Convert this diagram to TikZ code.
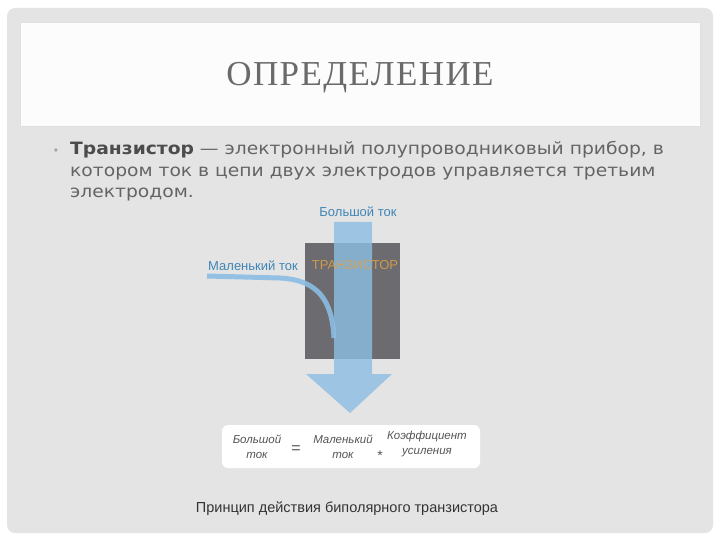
\documentclass[tikz,border=0pt]{standalone}
\usepackage{fontspec}
\setmainfont{Liberation Sans}
\newfontfamily\titlefont[LetterSpace=4]{Liberation Serif}
\newfontfamily\bodyfont[FakeStretch=1.1]{DejaVu Sans}
\usetikzlibrary{calc}
\definecolor{bg}{HTML}{E4E4E4}
\definecolor{panel}{HTML}{FCFCFC}
\definecolor{titlegray}{HTML}{6A6A6A}
\definecolor{bodygray}{HTML}{646464}
\definecolor{darkbox}{HTML}{6B6B70}
\definecolor{flow}{HTML}{8CBEE3}
\definecolor{labelblue}{HTML}{3F86B6}
\definecolor{gold}{HTML}{E0A346}
\definecolor{formgray}{HTML}{555555}
\tikzset{
  bodyline/.style={anchor=base west, inner sep=0pt, font=\bodyfont\fontsize{17}{20}\selectfont, text=bodygray},
  flowlabel/.style={anchor=base, inner sep=0pt, font=\fontsize{13}{14}\selectfont, text=labelblue},
  formtext/.style={align=center, inner sep=0pt, font=\itshape\fontsize{11.5}{15}\selectfont, text=formgray},
}
\begin{document}
\begin{tikzpicture}[x=1pt,y=-1pt]
\useasboundingbox (0,0) rectangle (720,540);
\fill[white] (0,0) rectangle (720,540);
\fill[bg, rounded corners=8pt] (7,8) rectangle (713,533);
\fill[panel] (20,22) rectangle (700,126);
\draw[white!88!black, line width=0.6pt] (20,22) rectangle (700,126);
% title
\node[anchor=base, inner sep=0pt, font=\titlefont\fontsize{35}{40}\selectfont, text=titlegray] (title) at (360,86) {ОПРЕДЕЛЕНИЕ};
% bullet text
\node[anchor=base, inner sep=0pt, font=\fontsize{12}{12}\selectfont, text=gray!70] (bullet) at (56,155) {•};
\node[bodyline] (l1) at (70,155) {\textbf{\color{black!70}Транзистор} — электронный полупроводниковый прибор, в};
\node[bodyline] (l2) at (70,177) {котором ток в цепи двух электродов управляется третьим};
\node[bodyline] (l3) at (70,198) {электродом.};
% transistor body
\fill[darkbox] (305,243) rectangle (400,359);
% small current curve
\draw[flow, line width=5pt, opacity=0.9] (207,276) -- (280,278) .. controls (318,280) and (332,300) .. (334,338);
% big current arrow
\fill[flow, opacity=0.8] (334,222) -- (372,222) -- (372,374) -- (392,374) -- (350,413) -- (306,374) -- (334,374) -- cycle;
\node[anchor=base, inner sep=0pt, font=\fontsize{13}{14}\selectfont, text=gold, opacity=0.85] (tr) at (355,269) {ТРАНЗИСТОР};
% labels
\node[flowlabel] (big) at (358,216) {Большой ток};
\node[flowlabel] (small) at (253,270) {Маленький ток};
% formula
\fill[white, rounded corners=6pt] (222,425) rectangle (480,468);
\node[formtext] (f1) at (257,447) {Большой\\ток};
\node[inner sep=0pt, font=\fontsize{16}{16}\selectfont, text=formgray] (eq) at (296,450) {=};
\node[formtext] (f2) at (343,447) {Маленький\\ток};
\node[inner sep=0pt, font=\fontsize{14}{14}\selectfont, text=formgray] (mul) at (380,456) {*};
\node[formtext] (f3) at (427,444) {Коэффициент\\усиления};
% caption
\node[anchor=base, inner sep=0pt, font=\fontsize{14.5}{16}\selectfont, text=black!80] (cap) at (347,512) {Принцип действия биполярного транзистора};
\end{tikzpicture}
\end{document}
